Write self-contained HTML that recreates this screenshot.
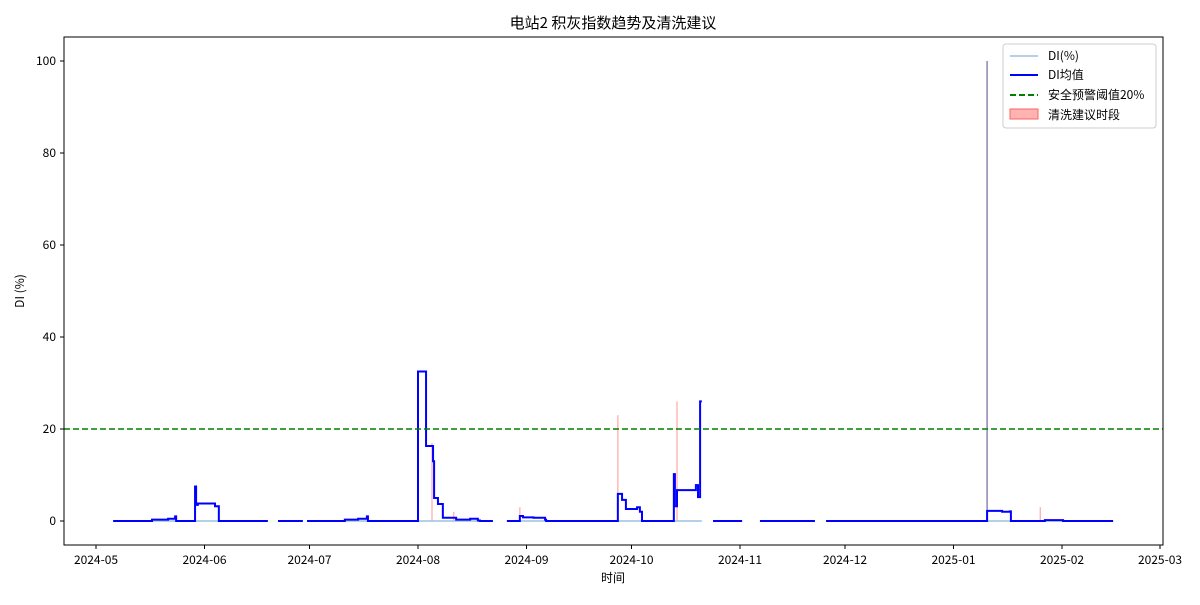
<!DOCTYPE html>
<html><head><meta charset="utf-8"><style>
body{margin:0;background:#fff}
text{font-family:"WenQuanYi Zen Hei","Noto Sans CJK SC",sans-serif;fill:#000}
</style></head><body>
<svg id="c" width="1200" height="600" xmlns="http://www.w3.org/2000/svg">
<rect width="1200" height="600" fill="#fff"/>
<text x="613" y="28" font-size="15" text-anchor="middle">电站2 积灰指数趋势及清洗建议</text>
<text x="613" y="582" font-size="12" text-anchor="middle">时间</text>
<text transform="translate(24,291) rotate(-90)" font-size="12" text-anchor="middle">DI (%)</text>
<g id="plot"></g>
<rect x="64" y="37" width="1099" height="508" fill="none" stroke="#000" stroke-width="1"/>
<g>
<rect x="1003" y="44" width="153" height="84" rx="3" fill="#fff" fill-opacity="0.8" stroke="#ccc"/>
<g><line x1="1010" y1="56" x2="1038" y2="56" stroke="#9ec1e0" stroke-width="1.5"/><text x="1048" y="60" font-size="12">DI(%)</text></g>
<g><line x1="1010" y1="75" x2="1038" y2="75" stroke="#0000ff" stroke-width="2"/><text x="1048" y="79" font-size="12">DI均值</text></g>
<g><line x1="1010" y1="95" x2="1038" y2="95" stroke="#008000" stroke-width="2" stroke-dasharray="6,3"/><text x="1048" y="99" font-size="12">安全预警阈值20%</text></g>
<g><rect x="1010" y="109" width="28" height="10" fill="#ff8080" fill-opacity="0.6" stroke="#ff6060"/><text x="1048" y="119" font-size="12">清洗建议时段</text></g>
</g>
</svg>
<script>
// days since 2024-05-01
const meanSteps=[[4.9,0],[16,0.3],[20.6,0.5],[22.6,1],[22.9,0],[28.3,7.5],[28.6,3.5],[29.1,3.8],[34,3.2],[35.1,0],[49.1,null],
[52,0],[59.1,null],[60.3,0],[71.1,0.3],[74.9,0.5],[77.4,1],[77.7,0],[92,32.5],[94.3,16.3],[96.3,13],[96.6,5],[97.7,3.7],[99.1,0.7],[102.9,0.3],[106.9,0.5],[109.1,0.1],[109.7,0],[113.4,null],
[117.4,0],[121.1,1.1],[122,0.8],[125,0.7],[128.3,0.3],[128.6,0],[149.1,5.9],[150.3,4.6],[151.4,2.6],[154.6,3],[155.4,2],[156,0],[165.1,10.2],[165.4,3.2],[166,6.7],[171.4,7.8],[172,5.2],[172.6,26],[173.1,null],
[176.3,0],[184.6,null],[189.7,0],[205.4,null],[208.6,0],[254.6,2.2],[258.9,2],[261.1,2.1],[261.4,0],[271.1,0.2],[276.3,0],[290.6,null]];
const cleanDays=[96.0,102.2,121.1,149.1,166.0,254.6,269.8];
const cleanVals=[17,2,3,23,26,100,3];
const yTicks=[0,20,40,60,80,100];
const xTickDays=[0,31,61,92,123,153,184,214,245,276,304];
const xTickLabels=["2024-05","2024-06","2024-07","2024-08","2024-09","2024-10","2024-11","2024-12","2025-01","2025-02","2025-03"];
const threshold=20;
const NS="http://www.w3.org/2000/svg";
const X=d=>96+d*3.5, Y=v=>521-v*4.6;
const g=document.getElementById('plot');
function el(t,a){const e=document.createElementNS(NS,t);for(const k in a)e.setAttribute(k,a[k]);g.appendChild(e);return e;}
yTicks.forEach(v=>{
 const l=el('line',{x1:60,x2:64,y1:Y(v),y2:Y(v),stroke:'#000'});
 
 
 const t=el('text',{x:56,y:Y(v)+4,'font-size':12,'text-anchor':'end'});t.textContent=v;
 
 
});
xTickDays.forEach((d,i)=>{
 const l=el('line',{x1:X(d),x2:X(d),y1:545,y2:549,stroke:'#000'});
 
 
 const t=el('text',{x:X(d),y:564,'font-size':12,'text-anchor':'middle'});t.textContent=xTickLabels[i];
 
 
});
cleanDays.forEach((d,i)=>{
 const r=el('rect',{x:X(d)-0.7,y:Y(cleanVals[i]),width:1.4,height:Y(0)-Y(cleanVals[i]),fill:'#ff8080','fill-opacity':0.6});
 
 
});
let raw='';
for(let i=0;i<meanSteps.length-1;i++){if(meanSteps[i][1]!==null){raw+=`M${X(meanSteps[i][0])},${Y(0)}H${X(meanSteps[i+1][0])}`;}}
const rp=el('path',{d:raw,stroke:'#9ec1e0','stroke-width':1.5,fill:'none'});


const sp=el('line',{x1:X(254.6),x2:X(254.6),y1:Y(0),y2:Y(100),stroke:'#8f8fb8','stroke-width':1.5});


let d='',open=false;
for(let i=0;i<meanSteps.length;i++){
 const [day,v]=meanSteps[i];
 if(v===null){ if(open)d+=`H${X(day)}`; open=false; continue;}
 if(!open){d+=`M${X(day)},${Y(v)}`;open=true;}
 else d+=`H${X(day)}V${Y(v)}`;
}
const mp=el('path',{d:d,stroke:'#0000ff','stroke-width':2,fill:'none'});


const th=el('line',{x1:64,x2:1163,y1:Y(threshold),y2:Y(threshold),stroke:'#008000','stroke-width':1.6,'stroke-dasharray':'6,3'});


</script>
</body></html>
